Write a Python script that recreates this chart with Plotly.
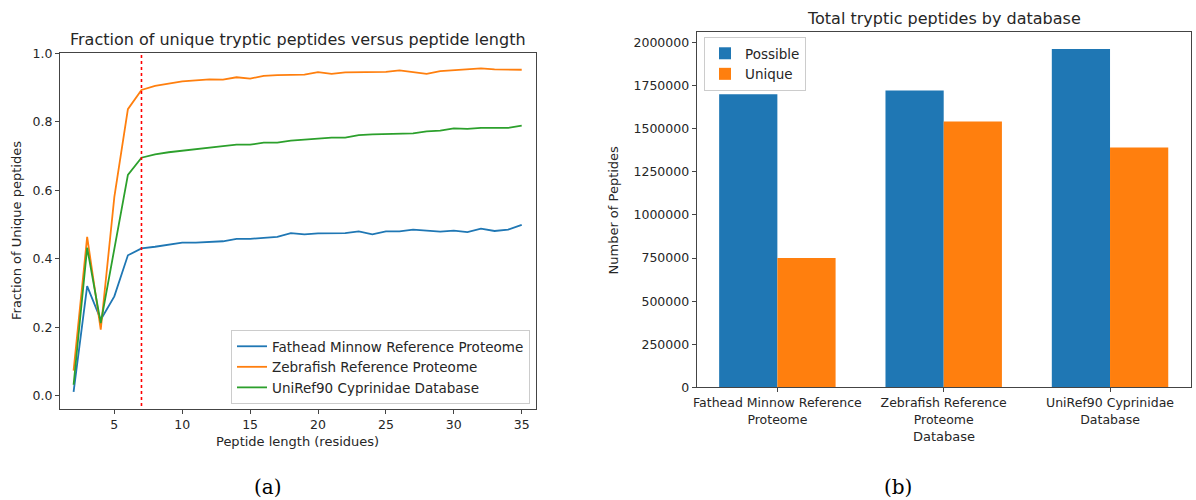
import plotly.graph_objects as go

# ---------------- data ----------------
peptide_length = list(range(2, 36))
fathead = [0.011, 0.320, 0.222, 0.290, 0.410, 0.430, 0.435, 0.441, 0.447, 0.447,
           0.450, 0.451, 0.458, 0.458, 0.461, 0.464, 0.475, 0.471, 0.474, 0.475,
           0.475, 0.480, 0.471, 0.480, 0.480, 0.485, 0.481, 0.479, 0.482, 0.478,
           0.488, 0.481, 0.485, 0.499]
zebrafish = [0.073, 0.464, 0.193, 0.580, 0.837, 0.893, 0.905, 0.911, 0.918, 0.921,
             0.924, 0.923, 0.930, 0.926, 0.934, 0.936, 0.938, 0.938, 0.945, 0.940,
             0.944, 0.945, 0.944, 0.946, 0.950, 0.946, 0.940, 0.948, 0.950, 0.953,
             0.956, 0.953, 0.953, 0.952]
uniref = [0.032, 0.432, 0.212, 0.430, 0.645, 0.695, 0.705, 0.711, 0.716, 0.719,
          0.726, 0.729, 0.733, 0.733, 0.739, 0.739, 0.745, 0.748, 0.750, 0.754,
          0.754, 0.761, 0.763, 0.764, 0.765, 0.766, 0.772, 0.774, 0.781, 0.779,
          0.782, 0.782, 0.782, 0.789]
cutoff_length = 7

databases = ["Fathead Minnow Reference<br>Proteome",
             "Zebrafish Reference<br>Proteome",
             "UniRef90 Cyprinidae<br>Database"]
possible = [1700000, 1723000, 1963000]
unique = [750000, 1543000, 1391000]
bar_ticks = [0, 250000, 500000, 750000, 1000000, 1250000, 1500000, 1750000, 2000000]

# ---------------- styling ----------------
BLUE, ORANGE, GREEN = "#1f77b4", "#ff7f0e", "#2ca02c"
FONT = "DejaVu Sans"
TXT = "#262626"
SPINE = "#444444"
W, H = 1196, 500

fig = go.Figure()

names = ["Fathead Minnow Reference Proteome", "Zebrafish Reference Proteome",
         "UniRef90 Cyprinidae Database"]
for name, ys, c in zip(names, [fathead, zebrafish, uniref], [BLUE, ORANGE, GREEN]):
    fig.add_trace(go.Scatter(x=peptide_length, y=ys, mode="lines", name=name,
                             line=dict(color=c, width=1.8), xaxis="x", yaxis="y",
                             legend="legend"))

# vertical red dotted line at cutoff length
fig.add_trace(go.Scatter(x=[cutoff_length, cutoff_length], y=[-0.1, 1.1], mode="lines",
                         line=dict(color="#ff0000", width=1.6, dash="dot"),
                         showlegend=False, xaxis="x", yaxis="y", hoverinfo="skip"))

bar_x = list(range(len(databases)))
fig.add_trace(go.Bar(x=bar_x, y=possible, name="Possible", marker=dict(color=BLUE, line=dict(width=0)),
                     xaxis="x2", yaxis="y2", legend="legend2"))
fig.add_trace(go.Bar(x=bar_x, y=unique, name="Unique", marker=dict(color=ORANGE, line=dict(width=0)),
                     xaxis="x2", yaxis="y2", legend="legend2"))

axis_common = dict(showline=True, linecolor=SPINE, linewidth=1, mirror=True,
                   showgrid=False, zeroline=False, ticks="outside", ticklen=4,
                   tickcolor=SPINE, automargin=False,
                   tickfont=dict(family=FONT, size=12.5, color=TXT))


def ann(text, x, y, size=13, font=FONT, color=TXT, angle=0):
    return dict(text=text, x=x / W, y=1 - y / H, xref="paper", yref="paper",
                showarrow=False, font=dict(family=font, size=size, color=color),
                xanchor="center", yanchor="middle", textangle=angle)


fig.update_layout(
    width=W, height=H,
    margin=dict(l=0, r=0, t=0, b=0),
    paper_bgcolor="white", plot_bgcolor="white",
    font=dict(family=FONT, color=TXT),
    barmode="group", bargap=0.3, bargroupgap=0,
    xaxis=dict(domain=[60 / W, 535.7 / W], anchor="y", range=[1.0, 36.03],
               tickvals=[5, 10, 15, 20, 25, 30, 35], **axis_common),
    yaxis=dict(domain=[1 - 408.7 / H, 1 - 53.3 / H], anchor="x", range=[-0.038, 1.0],
               tickvals=[0, 0.2, 0.4, 0.6, 0.8, 1.0], tickformat=".1f", **axis_common),
    xaxis2=dict(domain=[696.7 / W, 1190.7 / W], anchor="y2", range=[-0.485, 2.485],
                tickvals=bar_x, ticktext=databases, **axis_common),
    yaxis2=dict(domain=[1 - 387.3 / H, 1 - 32.3 / H], anchor="x2", range=[0, 2060000],
                tickvals=bar_ticks, tickformat="d", **axis_common),
    legend=dict(x=530 / W, y=1 - 404 / H, xanchor="right", yanchor="bottom",
                bgcolor="rgba(255,255,255,0.85)", bordercolor="#cccccc", borderwidth=1,
                font=dict(family=FONT, size=13.5, color=TXT), tracegroupgap=0,
                itemwidth=30),
    legend2=dict(x=704 / W, y=1 - 37 / H, xanchor="left", yanchor="top",
                 bgcolor="rgba(255,255,255,0.85)", bordercolor="#cccccc", borderwidth=1,
                 font=dict(family=FONT, size=13.5, color=TXT), tracegroupgap=0,
                 itemwidth=30),
    annotations=[
        ann("Fraction of unique tryptic peptides versus peptide length",
            (60 + 535.7) / 2, 40, size=16),
        ann("Total tryptic peptides by database", (696.7 + 1190.7) / 2, 18, size=16),
        ann("Peptide length (residues)", 297.8, 441.5),
        ann("Fraction of Unique peptides", 17, 231, angle=-90),
        ann("Database", 943.7, 436.7),
        ann("Number of Peptides", 613.5, 210, angle=-90),
        ann("(a)", 268, 487, size=20, font="DejaVu Serif", color="black"),
        ann("(b)", 898, 487, size=20, font="DejaVu Serif", color="black"),
    ],
)

fig.write_html("out.html")
